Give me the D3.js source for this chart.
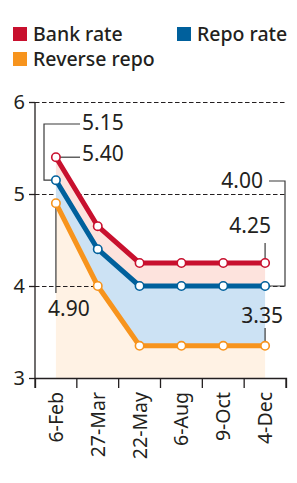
<!DOCTYPE html>
<html>
<head>
<meta charset="utf-8">
<script src="https://cdn.jsdelivr.net/npm/d3@7"></script>
<style>
  body { margin: 0; background: #fff; }
  svg text { font-family: "Noto Sans", Roboto, sans-serif; fill: #231f20; }
</style>
</head>
<body>
<div class="chart"></div>
<script>
// データ
const dates = ["6-Feb", "27-Mar", "22-May", "6-Aug", "9-Oct", "4-Dec"];
const bankRate = [5.40, 4.65, 4.25, 4.25, 4.25, 4.25];
const repoRate = [5.15, 4.40, 4.00, 4.00, 4.00, 4.00];
const reverseRepo = [4.90, 4.00, 3.35, 3.35, 3.35, 3.35];
const yTicks = [3, 4, 5, 6];

const colors = { bank: "#c8102e", repo: "#00609c", reverse: "#f7941d" };

const W = 297, H = 483;
const svg = d3.select(".chart").append("svg")
    .attr("width", W).attr("height", H);

// スケール
const x = d3.scaleBand().domain(dates).range([35, 286]);
const y = d3.scaleLinear().domain([3, 6]).range([378, 102]);
const cx = d => x(d) + x.bandwidth() / 2;

const rows = dates.map((d, i) => ({ date: d, bank: bankRate[i], repo: repoRate[i], rev: reverseRepo[i] }));

// 凡例
const legend = [
    { label: "Bank rate", color: colors.bank, x: 13, y: 27 },
    { label: "Repo rate", color: colors.repo, x: 177, y: 27 },
    { label: "Reverse repo", color: colors.reverse, x: 13, y: 52 }
];
const lg = svg.selectAll(".legend").data(legend).enter().append("g")
    .attr("transform", d => `translate(${d.x},${d.y})`);
lg.append("rect").attr("width", 14).attr("height", 14).attr("fill", d => d.color);
lg.append("text").attr("x", 20).attr("y", 13.5)
    .style("font-size", "19.5px").style("font-weight", 500).text(d => d.label);

// 塗り (reverse repo の下)
const areaRev = d3.area().x(d => cx(d.date)).y0(y(3)).y1(d => y(d.rev));
svg.append("path").datum(rows).attr("d", areaRev).attr("fill", "#fff2e4");

// グリッド
svg.selectAll(".grid").data(yTicks.filter(t => t > 3)).enter().append("line")
    .attr("x1", 35).attr("x2", 287)
    .attr("y1", d => y(d) + 0.5).attr("y2", d => y(d) + 0.5)
    .attr("stroke", "#231f20").attr("stroke-width", 1.2)
    .attr("stroke-dasharray", "4.5,2.5");

// 塗り
const areaBlue = d3.area().x(d => cx(d.date)).y0(d => y(d.rev)).y1(d => y(d.repo));
svg.append("path").datum(rows).attr("d", areaBlue).attr("fill", "#cce2f4");
const areaPink = d3.area().x(d => cx(d.date)).y0(d => y(d.repo)).y1(d => y(d.bank));
svg.append("path").datum(rows).attr("d", areaPink).attr("fill", "#fde3dd");

// 軸
const yAxis = svg.append("g").attr("transform", "translate(35,0)")
    .call(d3.axisLeft(y).tickValues(yTicks).tickSize(6).tickFormat(d3.format("d")));
yAxis.select(".domain").attr("d", `M0,${y(6)}V${y(3)}`);
yAxis.selectAll("line, path").attr("stroke", "#231f20").attr("stroke-width", 1.3);
yAxis.selectAll("text").attr("x", -10).style("font-size", "20px").attr("font-family", null);

const xAxis = svg.append("g").attr("transform", `translate(0,${y(3)})`)
    .call(d3.axisBottom(x).tickSize(10).tickSizeOuter(10));
xAxis.selectAll(".tick line").attr("transform", d => `translate(${x.bandwidth() / 2},0)`);
xAxis.append("line").attr("x1", 35).attr("x2", 35).attr("y1", 0).attr("y2", 10);
xAxis.selectAll("line, path").attr("stroke", "#231f20").attr("stroke-width", 1.3);
xAxis.selectAll(".tick text")
    .attr("transform", "rotate(-90)")
    .attr("x", -14).attr("y", 0).attr("dy", "0.36em")
    .style("text-anchor", "end").style("font-size", "19.5px").attr("font-family", null);

// 注釈の線
const lead = "#3a3a3a";
function path(d) {
    svg.append("path").attr("d", d).attr("fill", "none")
        .attr("stroke", lead).attr("stroke-width", 1.2);
}
const x0 = cx(dates[0]), xN = cx(dates[5]);
path(`M${x0 - 4},${y(repoRate[0])}H44V124H80`);
path(`M${x0},${y(bankRate[0])}H80`);
path(`M${x0},${y(reverseRepo[0])}V293`);
path(`M269,181H285V${y(repoRate[5])}H${xN}`);
path(`M${xN},243V${y(bankRate[5])}`);
path(`M${xN},328V${y(reverseRepo[5])}`);

// 線と点
const series = [
    { key: "rev", color: colors.reverse },
    { key: "repo", color: colors.repo },
    { key: "bank", color: colors.bank }
];
series.forEach(s => {
    const line = d3.line().x(d => cx(d.date)).y(d => y(d[s.key]));
    svg.append("path").datum(rows).attr("d", line)
        .attr("fill", "none").attr("stroke", s.color).attr("stroke-width", 5)
        .attr("stroke-linejoin", "round");
    svg.selectAll(null).data(rows).enter().append("circle")
        .attr("cx", d => cx(d.date)).attr("cy", d => y(d[s.key])).attr("r", 4.2)
        .attr("fill", "#fff").attr("stroke", s.color).attr("stroke-width", 1.6);
});

// 注釈ラベル
const labels = [
    { t: repoRate[0], x: 82, y: 130, a: "start" },
    { t: bankRate[0], x: 82, y: 161, a: "start" },
    { t: reverseRepo[0], x: 48, y: 316, a: "start" },
    { t: repoRate[5], x: 263, y: 188, a: "end" },
    { t: bankRate[5], x: 271, y: 233, a: "end" },
    { t: reverseRepo[5], x: 283, y: 323, a: "end" }
];
svg.selectAll(".ann").data(labels).enter().append("text")
    .attr("x", d => d.x).attr("y", d => d.y)
    .style("text-anchor", d => d.a).style("font-size", "21px")
    .text(d => d.t.toFixed(2));
</script>
</body>
</html>
